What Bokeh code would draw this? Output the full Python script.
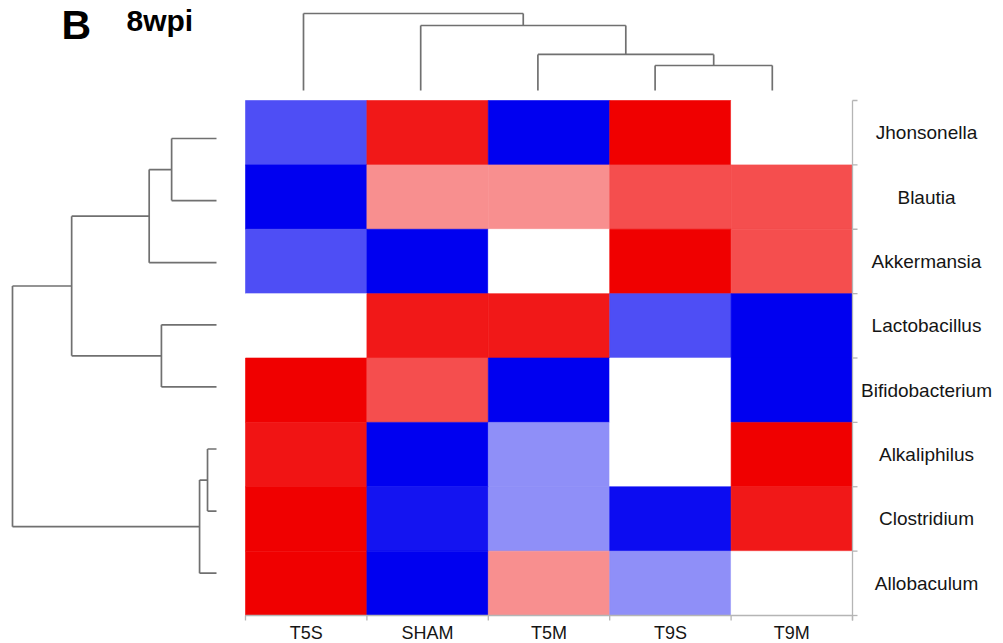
import numpy as np
from bokeh.plotting import figure
from bokeh.models import Range1d, ColumnDataSource, LinearColorMapper
from bokeh.transform import transform
from bokeh.embed import file_html
from bokeh.resources import INLINE
from bokeh.core.properties import value

# ---------------- data ----------------
columns = ["T5S", "SHAM", "T5M", "T9S", "T9M"]
rows = ["Jhonsonella", "Blautia", "Akkermansia", "Lactobacillus",
        "Bifidobacterium", "Alkaliphilus", "Clostridium", "Allobaculum"]

jhonsonella     = [-0.69, 0.90, -1.00, 1.00, 0.00]
blautia         = [-1.00, 0.44, 0.44, 0.69, 0.69]
akkermansia     = [-0.69, -1.00, 0.00, 1.00, 0.69]
lactobacillus   = [0.00, 0.90, 0.90, -0.69, -1.00]
bifidobacterium = [1.00, 0.69, -1.00, 0.00, -1.00]
alkaliphilus    = [0.92, -1.00, -0.44, 0.00, 1.00]
clostridium     = [1.00, -0.92, -0.44, -0.95, 0.90]
allobaculum     = [1.00, -1.00, 0.44, -0.44, 0.00]
row_values = [jhonsonella, blautia, akkermansia, lactobacillus,
              bifidobacterium, alkaliphilus, clostridium, allobaculum]

# hierarchical clustering (leaf indices in display order, then new nodes), heights relative to root
row_linkage = [(0, 1, 0.22), (8, 2, 0.33), (3, 4, 0.27), (9, 10, 0.71),
               (5, 6, 0.044), (12, 7, 0.083), (11, 13, 1.0)]
col_linkage = [(3, 4, 0.325), (2, 5, 0.468), (1, 6, 0.844), (0, 7, 1.0)]

panel_letter = "B"
panel_title = "8wpi"

# ---------------- layout ----------------
W, H = 1003, 643
HM_L, HM_R, HM_T, HM_B = 245, 852, 100, 615
CW = (HM_R - HM_L) / len(columns)
RH = (HM_B - HM_T) / len(rows)


def px_x(px):
    return (px - HM_L) / CW - 0.5


def px_y(py):
    return (py - HM_T) / RH - 0.5


p = figure(width=W, height=H, output_backend="svg", toolbar_location=None,
           x_range=Range1d(px_x(0), px_x(W)), y_range=Range1d(px_y(H), px_y(0)),
           min_border=0, outline_line_color=None, background_fill_color="white",
           border_fill_color="white")
p.xaxis.visible = False
p.yaxis.visible = False
p.grid.visible = False

# heatmap
def lerp(c1, c2, t):
    return "#%02x%02x%02x" % tuple(int(round(a + (b - a) * t)) for a, b in zip(c1, c2))

blue, white, red = (0, 0, 240), (255, 255, 255), (240, 0, 0)
palette = [lerp(blue, white, i / 127) for i in range(128)] + \
          [lerp(white, red, i / 127) for i in range(128)]
mapper = LinearColorMapper(palette=palette, low=-1, high=1)

xs, ys, vs = [], [], []
for j, vals in enumerate(row_values):
    for i, v in enumerate(vals):
        xs.append(i)
        ys.append(j)
        vs.append(v)
src = ColumnDataSource(dict(x=xs, y=ys, v=vs))
p.rect(x="x", y="y", width=1, height=1, source=src,
       fill_color=transform("v", mapper), line_color=transform("v", mapper), line_width=0.6)


# dendrograms
def dendro_segments(n_leaves, linkage):
    pos = {i: float(i) for i in range(n_leaves)}
    hgt = {i: 0.0 for i in range(n_leaves)}
    segs = []
    for k, (a, b, h) in enumerate(linkage):
        node = n_leaves + k
        segs.append((pos[a], hgt[a], pos[a], h))
        segs.append((pos[b], hgt[b], pos[b], h))
        segs.append((pos[a], h, pos[b], h))
        pos[node] = (pos[a] + pos[b]) / 2
        hgt[node] = h
    return segs

DCOL = "#707070"
# top (columns)
top = dendro_segments(len(columns), col_linkage)
tx = lambda l: px_x(303 + 117.2 * l)
ty = lambda h: px_y(90 - 77 * h)
p.segment(x0=[tx(s[0]) for s in top], y0=[ty(s[1]) for s in top],
          x1=[tx(s[2]) for s in top], y1=[ty(s[3]) for s in top],
          line_color=DCOL, line_width=1.7)
# left (rows)
left = dendro_segments(len(rows), row_linkage)
ly = lambda l: px_y(138 + 62.1 * l)
lx = lambda h: px_x(216 - 204 * h)
p.segment(x0=[lx(s[1]) for s in left], y0=[ly(s[0]) for s in left],
          x1=[lx(s[3]) for s in left], y1=[ly(s[2]) for s in left],
          line_color=DCOL, line_width=1.7)

# axis lines and ticks
AX = "#b5b5b5"
nC, nR = len(columns), len(rows)
p.segment(x0=[nC - 0.5, -0.5], y0=[-0.5, nR - 0.5], x1=[nC - 0.5, nC - 0.5],
          y1=[px_y(620), nR - 0.5], line_color=AX, line_width=1.3)
bx = [i - 0.5 for i in range(nC + 1)]
p.segment(x0=bx, y0=[nR - 0.5] * len(bx), x1=bx, y1=[px_y(620)] * len(bx),
          line_color=AX, line_width=1.3)
by = [j - 0.5 for j in range(nR + 1)]
p.segment(x0=[nC - 0.5] * len(by), y0=by, x1=[px_x(857)] * len(by), y1=by,
          line_color=AX, line_width=1.3)

# labels
FONT = value("Liberation Sans")
p.text(x=[px_x(926)] * nR, y=list(range(nR)), text=rows, text_align="center",
       text_baseline="middle", text_font=FONT, text_font_size="19px", text_color="#151515")
p.text(x=list(range(nC)), y=[px_y(632)] * nC, text=columns, text_align="center",
       text_baseline="middle", text_font=FONT, text_font_size="18px", text_color="#151515")

p.text(x=[px_x(61)], y=[px_y(24)], text=[panel_letter], text_align="left",
       text_baseline="middle", text_font=FONT, text_font_style="bold",
       text_font_size="41px", text_color="black")
p.text(x=[px_x(126)], y=[px_y(20)], text=[panel_title], text_align="left",
       text_baseline="middle", text_font=FONT, text_font_style="bold",
       text_font_size="30px", text_color="black")

open("out.html", "w").write(file_html(p, INLINE))
